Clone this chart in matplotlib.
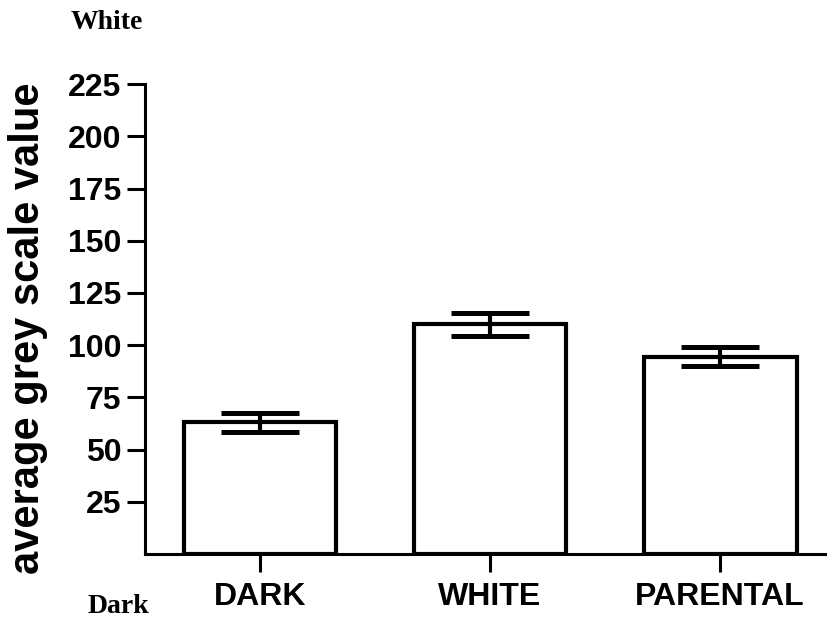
import matplotlib.pyplot as plt
import numpy as np

groups = ["DARK", "WHITE", "PARENTAL"]
means = [63, 110, 94.5]
errs = [4.6, 5.5, 4.5]
yticks = [25, 50, 75, 100, 125, 150, 175, 200, 225]

fig = plt.figure(figsize=(8.27, 6.19), dpi=100)
ax = fig.add_axes([0.1753, 0.105, 0.8247, 0.759])

x = np.arange(len(groups))
ax.bar(x, means, width=0.665, color="white", edgecolor="black", linewidth=3, zorder=2)
ax.errorbar(x, means, yerr=errs, fmt="none", ecolor="black", elinewidth=3,
            capsize=28, capthick=3.6, zorder=3)

ax.spines["top"].set_visible(False)
ax.spines["right"].set_visible(False)
ax.spines["left"].set_linewidth(2.2)
ax.spines["bottom"].set_linewidth(2.2)

ax.set_xlim(-0.5, 2.465)
ax.set_ylim(0, 225)
ax.set_yticks(yticks)
ax.set_xticks(x)
ax.set_xticklabels(groups)
ax.tick_params(axis="y", direction="out", length=13, width=2.2, labelsize=23, pad=4)
ax.tick_params(axis="x", direction="out", length=13, width=2.2, labelsize=23, pad=7)
for lab in ax.get_xticklabels() + ax.get_yticklabels():
    lab.set_fontfamily("Liberation Sans")
    lab.set_fontweight("bold")

ax.set_ylabel("average grey scale value", fontsize=30, fontweight="bold",
              family="Liberation Sans")
ax.yaxis.set_label_coords(-0.172, 0.48)
ax.yaxis.label.set_va("center")

fig.text(0.085, 0.963, "White", family="Liberation Serif", fontweight="bold",
         fontsize=20, va="center", ha="left")
fig.text(0.106, 0.02, "Dark", family="Liberation Serif", fontweight="bold",
         fontsize=20, va="center", ha="left")

fig.savefig("out.png", dpi=100)
